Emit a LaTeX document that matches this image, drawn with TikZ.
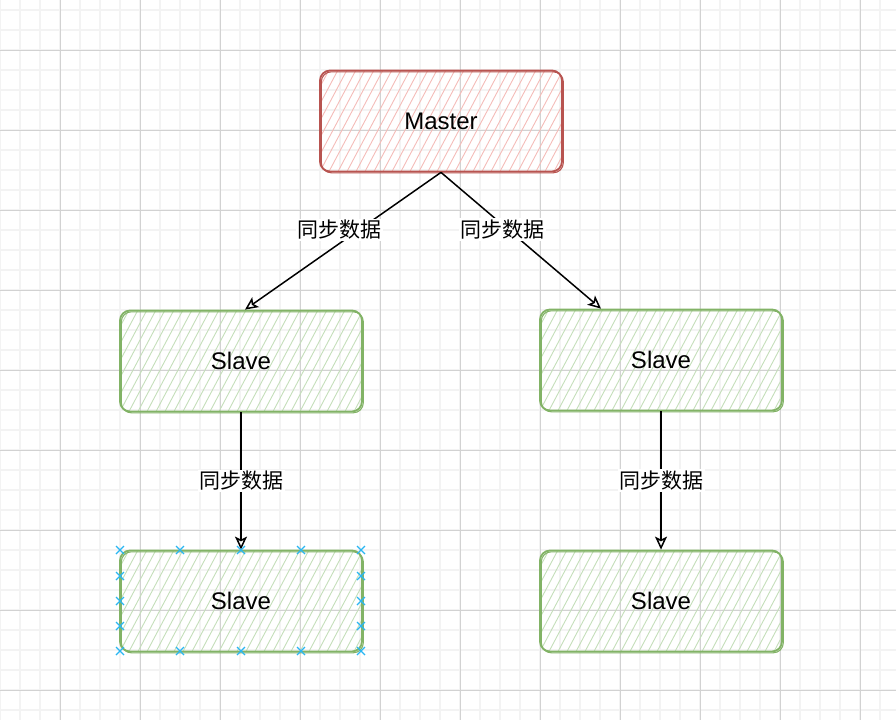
\documentclass[tikz,border=0pt]{standalone}
\usepackage{fontspec}
\setmainfont{Liberation Sans}
\newfontfamily\cjk{Noto Sans CJK SC}
\usetikzlibrary{arrows.meta}

\definecolor{masterline}{HTML}{B85450}
\definecolor{masterfill}{HTML}{F4BCB8}
\definecolor{slaveline}{HTML}{82B366}
\definecolor{slavefill}{HTML}{C4DEBA}
\definecolor{gridminor}{HTML}{F3F3F3}
\definecolor{gridmajor}{HTML}{D2D2D2}
\definecolor{handlecol}{HTML}{29B6F2}

\tikzset{
  hatch/.style={path picture={
      \foreach \k in {-72,-63,...,250}
        \draw[#1, line width=0.9pt] ([xshift=\k pt]path picture bounding box.south west) -- ++(62:130pt);
    }},
}

\begin{document}
\begin{tikzpicture}[x=1pt,y=-1pt]
            \tikzstyle{box}=[rectangle, rounded corners=10pt, minimum width=242pt, minimum height=101pt, line width=1.8pt, inner sep=0pt, font=\fontsize{24}{28}\selectfont, text=black, postaction={draw, line width=1.1pt, transform canvas={shift={(1.3pt,-1.3pt)}}}]
            \tikzstyle{edge}=[black, line width=1.5pt, -{Stealth[open, length=13pt, width=12pt, inset=3pt]}]
            \tikzstyle{lbl}=[fill=white, inner sep=1.5pt, font=\cjk\fontsize{21}{24}\selectfont]
            \tikzstyle{handle}=[handlecol, line width=1.2pt]

            \useasboundingbox (0,0) rectangle (896,720);
            % grid
            \foreach \x in {0,20,...,880} \draw[gridminor, line width=1.6pt] (\x,0) -- (\x,720);
            \foreach \y in {10,30,...,710} \draw[gridminor, line width=1.6pt] (0,\y) -- (896,\y);
            \foreach \x in {60,140,...,860} \draw[gridmajor, line width=0.9pt] (\x,0) -- (\x,720);
            \foreach \y in {50,130,...,690} \draw[gridmajor, line width=0.9pt] (0,\y) -- (896,\y);

            \node[box, draw=masterline, hatch=masterfill] (master) at (441,121) {Master};
            \node[box, draw=slaveline, hatch=slavefill] (slaveL) at (241,361) {Slave};
            \node[box, draw=slaveline, hatch=slavefill] (slaveR) at (661,360) {Slave};
            \node[box, draw=slaveline, hatch=slavefill] (slaveLL) at (241,601) {Slave};
            \node[box, draw=slaveline, hatch=slavefill] (slaveRR) at (661,601) {Slave};

            \draw[edge] (master.south) -- node[lbl, pos=0.42, xshift=-19pt] {同步数据} ([xshift=4pt]slaveL.north);
            \draw[edge] (master.south) -- node[lbl, pos=0.42, xshift=-6pt] {同步数据} ([xshift=-60pt]slaveR.north);
            \draw[edge] (slaveL.south) -- node[lbl] {同步数据} (slaveLL.north);
            \draw[edge] (slaveR.south) -- node[lbl] {同步数据} (slaveRR.north);

            % selection handles
            \foreach \p in {(120,550),(180,550),(241,550),(301,550),(361,550),
                            (120,651),(180,651),(241,651),(301,651),(361,651),
                            (120,576),(120,601),(120,626),(361,576),(361,601),(361,626)}
              \draw[handle] \p ++(-4,-4) -- ++(8,8) \p ++(-4,4) -- ++(8,-8);
          \end{tikzpicture}
\end{document}
